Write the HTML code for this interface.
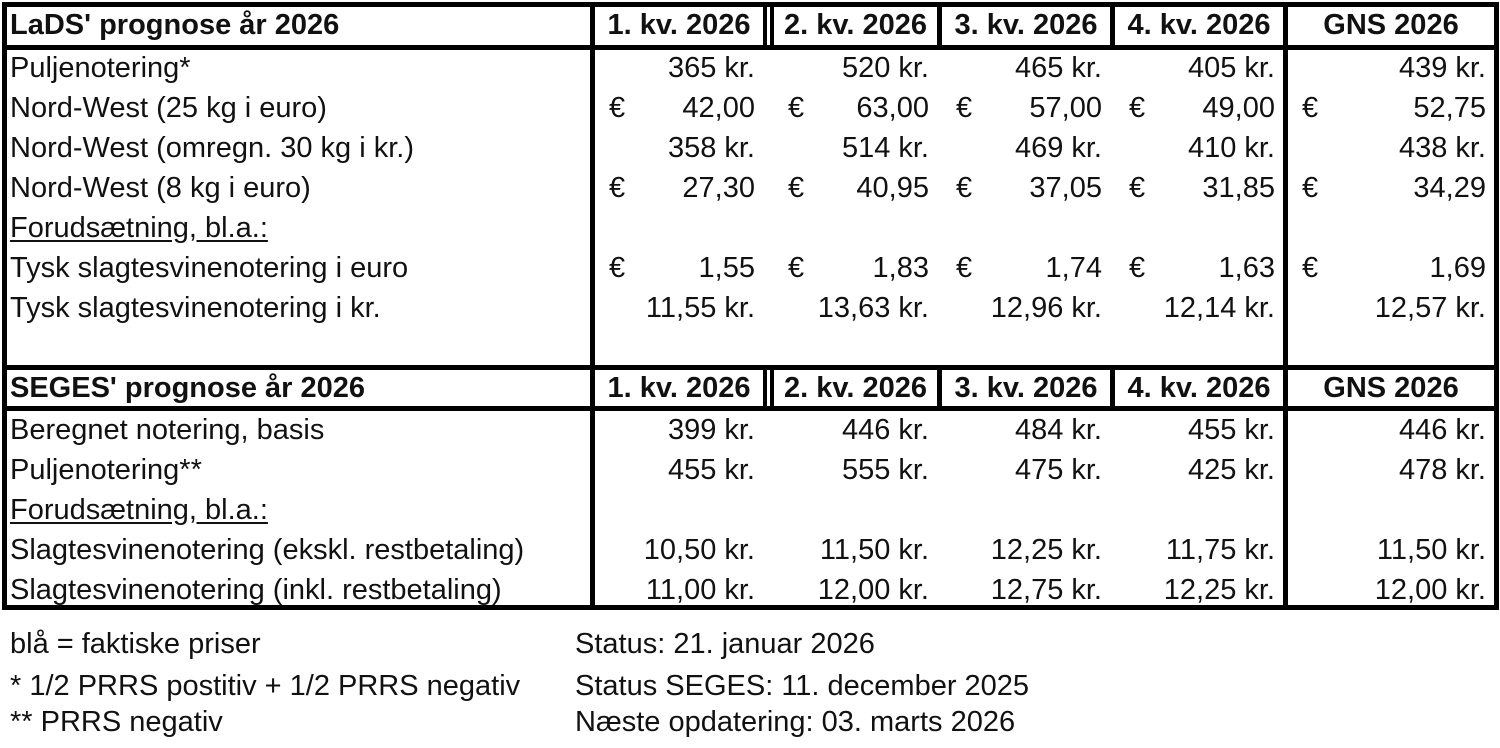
<!DOCTYPE html>
<html><head><meta charset="utf-8"><style>
body{margin:0;background:#fff;width:1500px;height:748px;position:relative;overflow:hidden;font-family:"Liberation Sans",Arial,sans-serif;color:#111}
.l{position:absolute;background:#000}
.t{position:absolute;font-size:29px;line-height:40px;white-space:nowrap}
.b{font-weight:bold}
.r{text-align:right}
.c{text-align:center}
u{text-decoration:underline;text-underline-offset:3px}
</style></head><body>
<div class="l" style="left:2px;top:2px;width:1497px;height:5px"></div>
<div class="l" style="left:2px;top:45px;width:1497px;height:5px"></div>
<div class="l" style="left:2px;top:365px;width:1497px;height:5px"></div>
<div class="l" style="left:2px;top:406px;width:1497px;height:5px"></div>
<div class="l" style="left:2px;top:605px;width:1497px;height:5px"></div>
<div class="l" style="left:2px;top:2px;width:5px;height:608px"></div>
<div class="l" style="left:1494px;top:2px;width:5px;height:608px"></div>
<div class="l" style="left:590px;top:2px;width:5px;height:608px"></div>
<div class="l" style="left:1283px;top:2px;width:5px;height:608px"></div>
<div class="l" style="left:763px;top:2px;width:4px;height:48px"></div>
<div class="l" style="left:770px;top:2px;width:4px;height:48px"></div>
<div class="l" style="left:937px;top:2px;width:5px;height:48px"></div>
<div class="l" style="left:1110px;top:2px;width:5px;height:48px"></div>
<div class="l" style="left:763px;top:365px;width:4px;height:46px"></div>
<div class="l" style="left:770px;top:365px;width:4px;height:46px"></div>
<div class="l" style="left:937px;top:365px;width:5px;height:46px"></div>
<div class="l" style="left:1110px;top:365px;width:5px;height:46px"></div>

<div id="c"></div>
<script>
const C=[[595,763],[774,937],[942,1110],[1115,1283],[1288,1494]];
let h='';
function T(x,y,w,txt,cls){h+=`<div class="t ${cls||''}" style="left:${x}px;top:${y-20}px;width:${w}px">${txt}</div>`;}
function hdr(y,title){T(10,y,570,title,'b');['1. kv. 2026','2. kv. 2026','3. kv. 2026','4. kv. 2026','GNS 2026'].forEach((s,i)=>T(C[i][0],y,C[i][1]-C[i][0],s,'b c'));}
function row(y,label,vals,euro){T(10,y,580,label);if(!vals)return;vals.forEach((v,i)=>{T(C[i][0],y,C[i][1]-C[i][0]-8,v,'r');if(euro)T(C[i][0]+14,y,30,'€');});}
hdr(25,"LaDS' prognose år 2026");
row(68,'Puljenotering*',['365 kr.','520 kr.','465 kr.','405 kr.','439 kr.']);
row(108,'Nord-West (25 kg i euro)',['42,00','63,00','57,00','49,00','52,75'],1);
row(148,'Nord-West (omregn. 30 kg i kr.)',['358 kr.','514 kr.','469 kr.','410 kr.','438 kr.']);
row(188,'Nord-West (8 kg i euro)',['27,30','40,95','37,05','31,85','34,29'],1);
row(228,'<u>Forudsætning, bl.a.:</u>');
row(268,'Tysk slagtesvinenotering i euro',['1,55','1,83','1,74','1,63','1,69'],1);
row(308,'Tysk slagtesvinenotering i kr.',['11,55 kr.','13,63 kr.','12,96 kr.','12,14 kr.','12,57 kr.']);
hdr(388,"SEGES' prognose år 2026");
row(430,'Beregnet notering, basis',['399 kr.','446 kr.','484 kr.','455 kr.','446 kr.']);
row(470,'Puljenotering**',['455 kr.','555 kr.','475 kr.','425 kr.','478 kr.']);
row(510,'<u>Forudsætning, bl.a.:</u>');
row(550,'Slagtesvinenotering (ekskl. restbetaling)',['10,50 kr.','11,50 kr.','12,25 kr.','11,75 kr.','11,50 kr.']);
row(590,'Slagtesvinenotering (inkl. restbetaling)',['11,00 kr.','12,00 kr.','12,75 kr.','12,25 kr.','12,00 kr.']);
T(10,644,540,'blå = faktiske priser');
T(10,686,560,'* 1/2 PRRS postitiv + 1/2 PRRS negativ');
T(10,722,540,'** PRRS negativ');
T(575,644,700,'Status: 21. januar 2026');
T(575,686,700,'Status SEGES: 11. december 2025');
T(575,722,700,'Næste opdatering: 03. marts 2026');
document.getElementById('c').innerHTML=h;
</script>
</body></html>
